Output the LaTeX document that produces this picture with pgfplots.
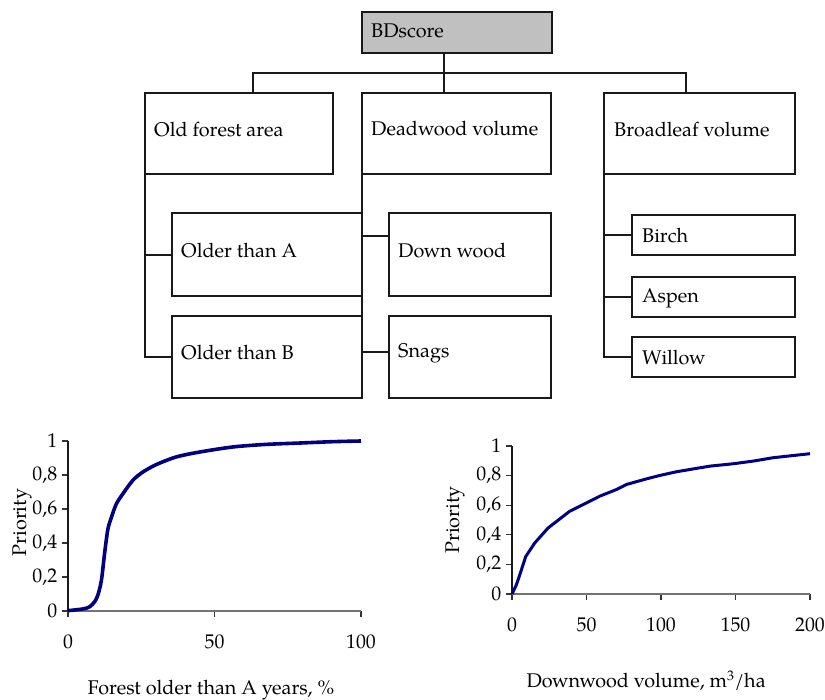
\documentclass[border=0pt]{standalone}
\usepackage{pgfplots}
\pgfplotsset{compat=1.18}
\usepackage{fontspec}
\setmainfont{TeX Gyre Pagella}
\definecolor{curve}{RGB}{0,0,128}
\definecolor{boxgray}{RGB}{192,192,192}
\begin{document}
\fontsize{19.8}{23}\selectfont
\begin{tikzpicture}
\begin{scope}[x=1pt,y=-1pt]
\tikzset{bx/.style={draw=black!90, line width=1.8pt},
         ln/.style={draw=black!90, line width=1.8pt},
         lb/.style={anchor=west, inner sep=0pt}}
% top box
\draw[bx, fill=boxgray, line width=2.3pt] (362,12) rectangle (552,53);
\node[lb] at (371,31) {BDscore};
% connectors
\draw[ln] (444,53)--(444,93);
\draw[ln] (253,93)--(253,73)--(686,73)--(686,93);
% level 1
\draw[bx] (145,93) rectangle (333,174);
\node[lb] at (154,129) {Old forest area};
\draw[bx] (362,93) rectangle (551,174);
\node[lb] at (371,129) {Deadwood volume};
\draw[bx] (604,93) rectangle (795,174);
\node[lb] at (614,129) {Broadleaf volume};
% old forest children
\draw[ln] (145,174)--(145,357)--(172,357);
\draw[ln] (145,255)--(172,255);
\draw[bx] (172,213) rectangle (362,296);
\node[lb] at (181,251) {Older than A};
\draw[bx] (172,316) rectangle (362,398);
\node[lb] at (181,353) {Older than B};
% deadwood children
\draw[ln] (362,174)--(362,352)--(389,352);
\draw[ln] (362,236)--(389,236);
\draw[bx] (389,213) rectangle (551,296);
\node[lb] at (398,251) {Down wood};
\draw[bx] (389,316) rectangle (551,398);
\node[lb] at (398,353) {Snags};
% broadleaf children
\draw[ln] (604,174)--(604,357)--(632,357);
\draw[ln] (604,235)--(632,235);
\draw[ln] (604,297)--(632,297);
\draw[bx] (632,215) rectangle (795,255);
\node[lb] at (642,236) {Birch};
\draw[bx] (632,277) rectangle (795,317);
\node[lb] at (642,298) {Aspen};
\draw[bx] (632,337) rectangle (795,377);
\node[lb] at (642,358) {Willow};
\end{scope}

\pgfplotsset{myax/.style={
  scale only axis, axis lines*=left, tick align=outside,
  major tick length=6pt, clip=false,
  y axis line style={line width=1.1pt, black!90},
  x axis line style={line width=1.1pt, black!55},
  every tick/.style={line width=1.1pt, black!80},
  ymin=0, ymax=1, ytick={0,0.2,0.4,0.6,0.8,1},
  /pgf/number format/.cd, use comma, assume math mode=true,
}}

\begin{axis}[myax, at={(68pt,-611pt)}, anchor=south west,
  width=293pt, height=170pt, xmin=0, xmax=100, xtick={0,50,100},
  xticklabel style={yshift=-11pt},
  yticklabel style={xshift=2pt},
  xlabel={Forest older than A years, \%},
  ylabel={Priority},
  xlabel style={at={(axis description cs:0.488,-0.465)}, anchor=center},
  ylabel style={at={(axis description cs:-0.157,0.52)}, anchor=center}]
\addplot[curve, line width=3.6pt, smooth] coordinates {
(0,0.002) (5.1,0.012) (7.4,0.025) (9.1,0.055) (10.2,0.094) (11.4,0.18)
(12.5,0.34) (13.6,0.48) (14.8,0.55) (16.5,0.63) (18.75,0.69) (22.2,0.77)
(25.6,0.818) (30.1,0.861) (36.9,0.906) (44.9,0.935) (56.3,0.965)
(67.6,0.98) (79,0.988) (90.3,0.996) (100,1.0)};
\end{axis}

\begin{axis}[myax, at={(512pt,-594pt)}, anchor=south west,
  width=298pt, height=148pt, xmin=0, xmax=200, xtick={0,50,100,150,200},
  xticklabel style={yshift=-11pt},
  yticklabel style={xshift=2pt},
  xlabel={Downwood volume, m\textsuperscript{3}/ha},
  ylabel={Priority},
  xlabel style={at={(axis description cs:0.45,-0.585)}, anchor=center},
  ylabel style={at={(axis description cs:-0.191,0.5)}, anchor=center}]
\addplot[curve, line width=3pt] coordinates {
(0,0) (2.9,0.061) (5.2,0.129) (9.2,0.253) (15.2,0.344) (24.2,0.446)
(38.7,0.559) (49.9,0.615) (58.9,0.661) (70.1,0.706) (76.8,0.74)
(90.3,0.778) (99.2,0.801) (110.4,0.826) (132.8,0.864) (148.5,0.880)
(161.9,0.898) (175.4,0.921) (200,0.948)};
\end{axis}
\pgfresetboundingbox
\path[use as bounding box] (0pt,0pt) rectangle (825pt,-700pt);
\end{tikzpicture}
\end{document}
